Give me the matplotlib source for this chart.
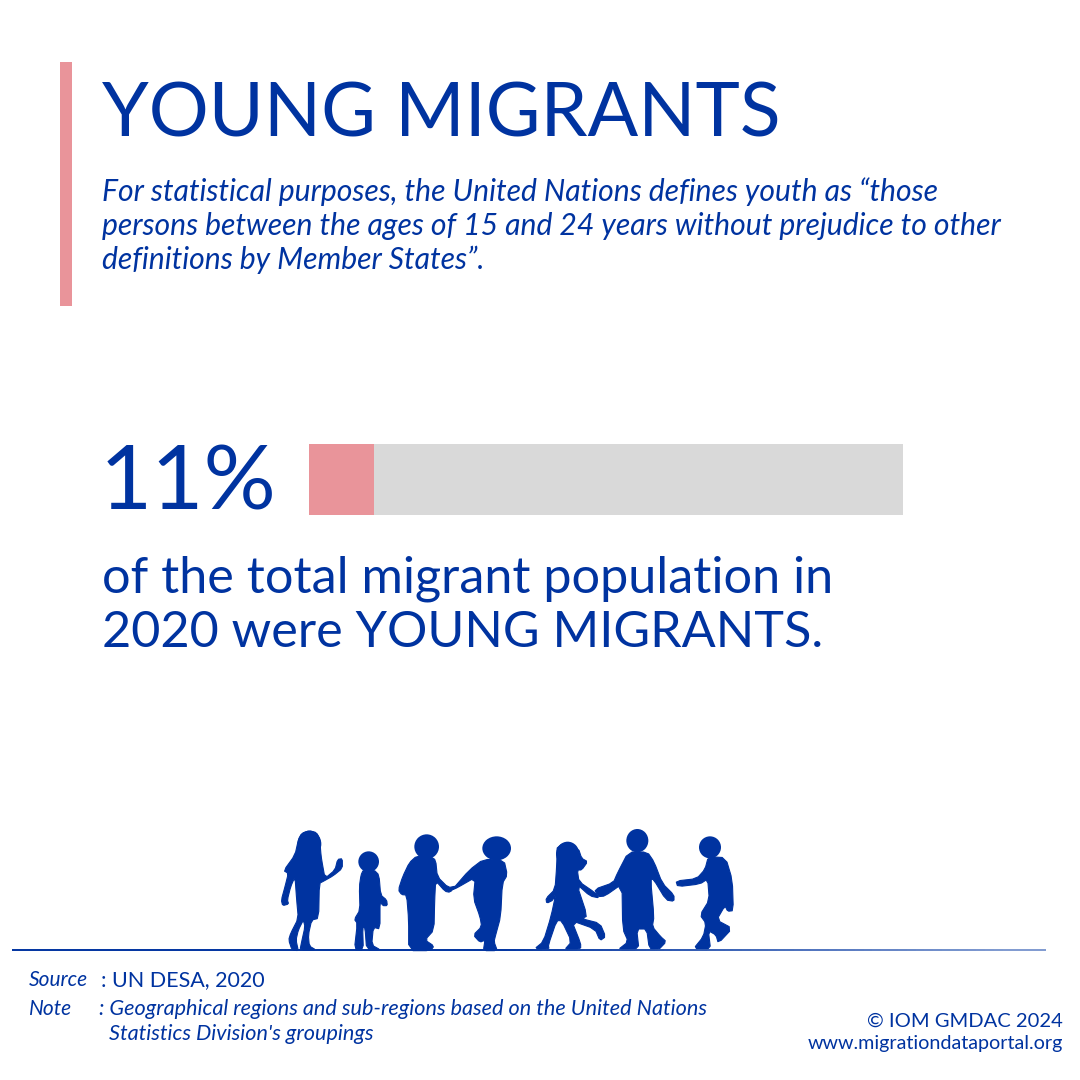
import matplotlib
matplotlib.use('Agg')
import matplotlib.pyplot as plt
from matplotlib.collections import LineCollection
from matplotlib.patches import Ellipse, Polygon, Rectangle
import numpy as np

plt.rcParams['font.family'] = ['Lato', 'DejaVu Sans']

BLUE = '#0033A0'
PINK = '#E9949A'
GREY = '#D9D9D9'

share_label = '11%'
share_value = [11]
share_total = [100]

title = 'YOUNG MIGRANTS'
intro_lines = [
    'For statistical purposes, the United Nations defines youth as “those',
    'persons between the ages of 15 and 24 years without prejudice to other',
    'definitions by Member States”.',
]
claim_lines = ['of the total migrant population in', '2020 were YOUNG MIGRANTS.']

# silhouettes, traced in the coordinates of a 3x crop starting at (270, 820)
heads = [(118, 72, 36, 40), (296, 125, 31, 31), (470, 80, 37, 37), (680, 85, 43, 36),
         (893, 102, 35, 37), (1102, 62, 33, 35), (1320, 82, 33, 33)]
bodies = [
    [(118, 32), (140, 38), (150, 60), (152, 95), (155, 120), (165, 175), (195, 150), (203, 118),
     (217, 116), (217, 145), (190, 167), (160, 184), (148, 190), (146, 295), (125, 300), (115, 345),
     (118, 378), (138, 390), (90, 390), (95, 365), (105, 320), (100, 300), (85, 330), (78, 360),
     (85, 392), (66, 390), (56, 360), (62, 340), (85, 295), (80, 240), (75, 170), (62, 200),
     (52, 240), (56, 252), (38, 257), (34, 240), (45, 200), (55, 160), (41, 152), (75, 105),
     (85, 60), (95, 40)],
    [(280, 150), (312, 150), (327, 165), (332, 225), (350, 240), (352, 257), (338, 257), (330, 242),
     (330, 327), (310, 322), (305, 375), (332, 390), (290, 390), (285, 322), (278, 322), (280, 390),
     (253, 390), (262, 310), (253, 298), (270, 270), (268, 200), (273, 165)],
    [(440, 108), (482, 110), (497, 120), (502, 170), (535, 203), (558, 198), (540, 217), (525, 214),
     (497, 182), (494, 240), (492, 330), (465, 360), (492, 378), (482, 392), (416, 392), (416, 300),
     (410, 225), (395, 224), (385, 210), (398, 170), (418, 128)],
    [(640, 118), (702, 120), (712, 165), (697, 190), (692, 290), (677, 345), (672, 365), (682, 392),
     (640, 392), (645, 360), (630, 367), (610, 345), (635, 320), (630, 290), (610, 235), (616, 172),
     (562, 203), (546, 210), (598, 150)],
    [(862, 70), (925, 85), (935, 115), (953, 125), (935, 150), (922, 150), (927, 185), (975, 218),
     (988, 234), (960, 228), (920, 192), (952, 288), (935, 296), (990, 310), (1007, 350), (990, 362),
     (975, 327), (905, 302), (932, 370), (932, 387), (883, 390), (905, 365), (875, 302), (860, 302),
     (835, 375), (837, 387), (793, 387), (820, 365), (843, 290), (860, 210), (850, 240), (830, 250),
     (828, 235), (855, 208), (860, 140)],
    [(1075, 96), (1132, 96), (1152, 125), (1177, 190), (1212, 225), (1212, 244), (1188, 240),
     (1150, 177), (1142, 180), (1152, 290), (1147, 320), (1172, 350), (1189, 365), (1165, 390),
     (1138, 387), (1130, 327), (1100, 327), (1107, 390), (1043, 390), (1075, 365), (1058, 327),
     (1056, 192), (1005, 228), (985, 230), (973, 208), (1030, 188), (1042, 160)],
    [(1315, 110), (1367, 113), (1387, 180), (1390, 272), (1373, 274), (1365, 257), (1340, 300),
     (1387, 325), (1345, 370), (1338, 345), (1315, 332), (1322, 390), (1270, 387), (1300, 350),
     (1308, 310), (1290, 285), (1318, 240), (1313, 177), (1290, 192), (1223, 200), (1218, 183),
     (1280, 176), (1305, 148)],
]


def crop_xy(points):
    return [(270 + px / 3, 820 + py / 3) for px, py in points]


def smooth(points):
    # one round of corner cutting so the outlines are not so angular
    pts = np.array(points, dtype=float)
    nxt = np.roll(pts, -1, axis=0)
    return np.column_stack([0.8 * pts + 0.2 * nxt, 0.2 * pts + 0.8 * nxt]).reshape(-1, 2)


fig = plt.figure(figsize=(10.8, 10.8), dpi=100)
ax = fig.add_axes([0, 0, 1, 1])
ax.set_xlim(0, 1080)
ax.set_ylim(1080, 0)
ax.axis('off')

# accent bar and header
ax.add_patch(Rectangle((60, 62), 12, 244, color=PINK, lw=0))
ax.text(102, 115, title, color=BLUE, fontsize=54, va='center')
for i, line in enumerate(intro_lines):
    ax.text(102, 192 + i * 34, line, color=BLUE, fontsize=21.7, style='italic', va='center')

# progress bar
bar_ax = fig.add_axes([309 / 1080, 1 - 515 / 1080, 594 / 1080, 71 / 1080])
bar_ax.barh([0], share_total, height=1, color=GREY)
bar_ax.barh([0], share_value, height=1, color=PINK)
bar_ax.set_xlim(0, 100)
bar_ax.set_ylim(-0.5, 0.5)
bar_ax.axis('off')

ax.text(100, 484, share_label, color=BLUE, fontsize=65, va='center')
for i, line in enumerate(claim_lines):
    ax.text(102, 579 + i * 54, line, color=BLUE, fontsize=36.3, va='center')

# children
for hx, hy, rx, ry in heads:
    cx, cy = crop_xy([(hx, hy)])[0]
    ax.add_patch(Ellipse((cx, cy), rx * 2 / 3, ry * 2 / 3, color=BLUE, lw=0))
for body in bodies:
    ax.add_patch(Polygon(smooth(crop_xy(body)), closed=True, fc=BLUE, ec=BLUE, lw=0.8, joinstyle='round'))

# ground line fades to the right
xs = np.linspace(12, 1046, 120)
segs = [[(a, 950), (b, 950)] for a, b in zip(xs[:-1], xs[1:])]
start = np.array(matplotlib.colors.to_rgb(BLUE))
end = np.array(matplotlib.colors.to_rgb('#7F9AD0'))
fade = np.clip((xs[:-1] - 500) / 500, 0, 1)[:, None]
ax.add_collection(LineCollection(segs, colors=start + (end - start) * fade, linewidths=1.4))

# footer
ax.text(29, 980, 'Source', color=BLUE, fontsize=15, style='italic', va='center')
ax.text(101, 980, ': UN DESA, 2020', color=BLUE, fontsize=15.5, va='center')
ax.text(29, 1009, 'Note', color=BLUE, fontsize=15, style='italic', va='center')
ax.text(99, 1009, ': Geographical regions and sub-regions based on the United Nations', color=BLUE,
        fontsize=15.6, style='italic', va='center')
ax.text(109, 1034, "Statistics Division's groupings", color=BLUE, fontsize=15.6, style='italic', va='center')
ax.text(1063, 1021, '© IOM GMDAC 2024', color=BLUE, fontsize=14.5, va='center', ha='right')
ax.text(1063, 1044, 'www.migrationdataportal.org', color=BLUE, fontsize=14.2, va='center', ha='right')

fig.savefig('out.png', dpi=100, facecolor='white')
